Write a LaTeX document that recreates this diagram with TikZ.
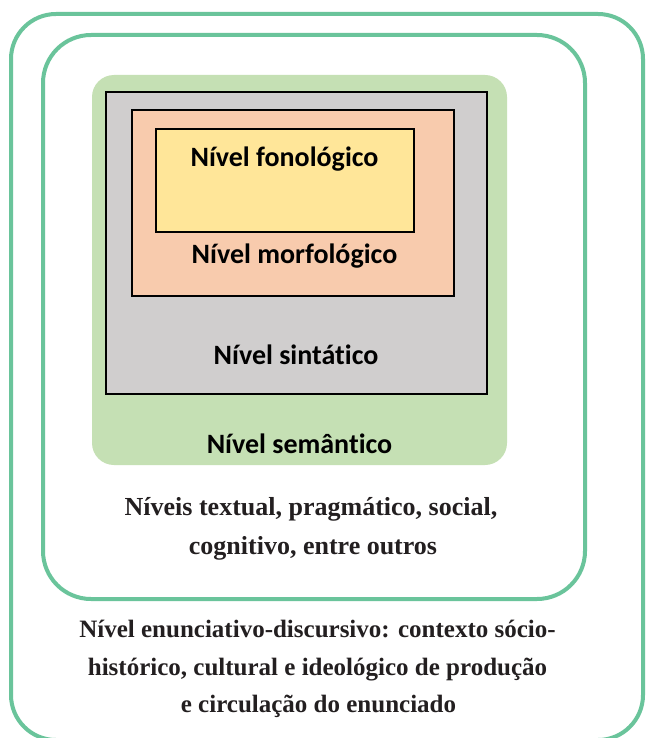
\documentclass[tikz,border=0pt]{standalone}
\usepackage{fontspec}
\setmainfont{Liberation Serif}
\newfontfamily\calfont[RawFeature={-liga;-clig;-dlig}]{Carlito}
\definecolor{frameGreen}{RGB}{106,196,155}
\definecolor{semGreen}{RGB}{197,224,180}
\definecolor{sinGray}{RGB}{208,206,206}
\definecolor{morOrange}{RGB}{248,203,173}
\definecolor{fonYellow}{RGB}{255,230,153}
\definecolor{serifText}{RGB}{35,31,32}
\tikzset{
  frame/.style={draw=frameGreen, line width=4pt},
  levelbox/.style={draw=black, line width=1.2pt},
  callabel/.style={font=\calfont\bfseries\fontsize{28}{32}\selectfont, text=black, anchor=base, inner sep=0pt},
  serlabel/.style={font=\bfseries\fontsize{26}{30}\selectfont, text=serifText, anchor=base, inner sep=0pt},
  serlabelb/.style={serlabel, font=\bfseries\fontsize{25}{30}\selectfont},
}
\begin{document}
\begin{tikzpicture}[x=1pt,y=-1pt]
\clip (0,0) rectangle (645,738);
\fill[white] (0,0) rectangle (645,738);
% outer frames
\draw[frame, rounded corners=45pt] (11,14) rectangle (643,740);
\draw[frame, rounded corners=48pt] (43,35) rectangle (585,599);
% semantic level
\fill[semGreen, rounded corners=22pt] (92,75) rectangle (507,465);
% syntactic level
\filldraw[fill=sinGray, levelbox] (106,92) rectangle (487,394);
% morphological level
\filldraw[fill=morOrange, levelbox] (132,110) rectangle (454,296);
% phonological level
\filldraw[fill=fonYellow, levelbox] (156,129) rectangle (414,232);
% labels
\node[callabel] (fon) at (284.5,167) {Nível fonológico};
\node[callabel] (mor) at (294.5,263) {Nível morfológico};
\node[callabel] (sin) at (296,364) {Nível sintático};
\node[callabel] (sem) at (299.5,453) {Nível semântico};
\node[serlabel] (tx1) at (311,515) {Níveis textual, pragmático, social,};
\node[serlabel] (tx2) at (313,554) {cognitivo, entre outros};
\node[serlabelb] (en1) at (317.5,637) {Nível enunciativo-discursivo: contexto sócio-};
\node[serlabelb] (en2) at (317.5,675) {histórico, cultural e ideológico de produção};
\node[serlabelb] (en3) at (318.5,712) {e circulação do enunciado};
\end{tikzpicture}
\end{document}
